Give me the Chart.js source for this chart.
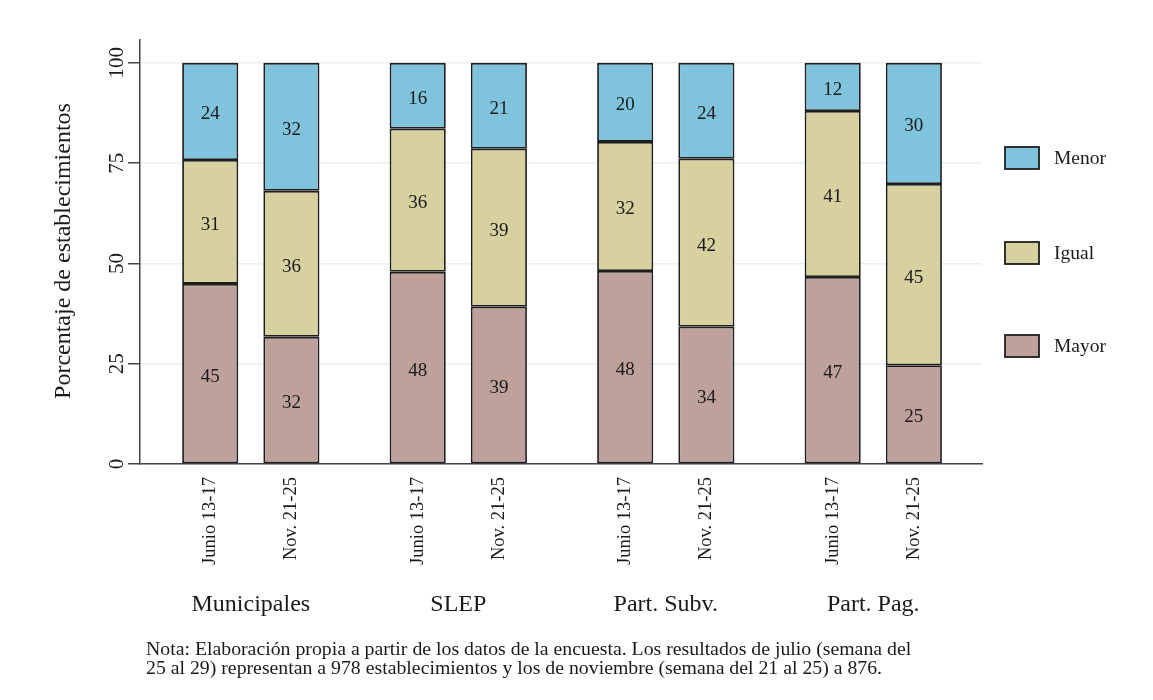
<!DOCTYPE html>
<html>
<head>
<meta charset="utf-8">
<script src="https://cdn.jsdelivr.net/npm/chart.js@4"></script>
<style>
  html, body { margin: 0; padding: 0; background: #fff; }
  #wrap { width: 1153px; height: 700px; position: relative; }
</style>
</head>
<body>
<div id="wrap"><canvas id="chart" width="1153" height="700"></canvas></div>
<script>
// categories
const groups = ['Municipales', 'SLEP', 'Part. Subv.', 'Part. Pag.'];
const periods = ['Junio 13-17', 'Nov. 21-25'];
const yTicks = [0, 25, 50, 75, 100];

// series values (% of establishments), [group]
const mayorJunio = [44.9, 47.9, 48.1, 46.6];
const mayorNov   = [31.7, 39.2, 34.2, 24.6];
const igualJunio = [30.9, 35.7, 32.2, 41.4];
const igualNov   = [36.4, 39.4, 41.9, 45.2];
const menorJunio = [24.2, 16.4, 19.7, 12.0];
const menorNov   = [31.9, 21.4, 23.9, 30.2];

const seriesNames = ['Mayor', 'Igual', 'Menor'];
const seriesColors = ['#bea19b', '#d6d19f', '#7fc3dc'];
const seriesData = [[mayorJunio, mayorNov], [igualJunio, igualNov], [menorJunio, menorNov]];

const FONT = '"Liberation Serif", "Times New Roman", serif';
const TEXT = '#1a1a1a';

const datasets = [];
seriesNames.forEach((name, s) => {
    periods.forEach((p, k) => {
        datasets.push({
            label: name,
            stack: 'p' + k,
            period: k,
            data: groups.map((g, i) => ({ x: i, y: seriesData[s][k][i] })),
            backgroundColor: seriesColors[s],
            borderColor: '#1e1e1e',
            borderWidth: 1.8,
            borderSkipped: false,
            categoryPercentage: 0.7826,
            barPercentage: 0.691
        });
    });
});

const extras = {
    id: 'extras',
    afterDatasetsDraw(chart) {
        const ctx = chart.ctx;
        const x = chart.scales.x, y = chart.scales.y;
        ctx.save();
        ctx.fillStyle = TEXT;

        // values inside segments
        ctx.font = '19px ' + FONT;
        ctx.textAlign = 'center';
        ctx.textBaseline = 'middle';
        chart.data.datasets.forEach((ds, d) => {
            chart.getDatasetMeta(d).data.forEach((bar, i) => {
                ctx.fillText(Math.round(ds.data[i].y), bar.x, (bar.y + bar.base) / 2 + 3);
            });
        });

        // period labels, rotated
        ctx.font = '18.5px ' + FONT;
        chart.data.datasets.slice(0, 2).forEach((ds, d) => {
            chart.getDatasetMeta(d).data.forEach(bar => {
                ctx.save();
                ctx.translate(bar.x, y.bottom + 13);
                ctx.rotate(-Math.PI / 2);
                ctx.textAlign = 'right';
                ctx.fillText(periods[ds.period], 0, 0);
                ctx.restore();
            });
        });

        // group labels
        ctx.font = '24px ' + FONT;
        ctx.textAlign = 'center';
        groups.forEach((g, i) => ctx.fillText(g, x.getPixelForValue(i), 605));

        // y tick labels rotated
        ctx.font = '21px ' + FONT;
        yTicks.forEach(t => {
            ctx.save();
            ctx.translate(117, y.getPixelForValue(t));
            ctx.rotate(-Math.PI / 2);
            ctx.fillText(String(t), 0, 0);
            ctx.restore();
        });

        // y title
        ctx.save();
        ctx.font = '24px ' + FONT;
        ctx.translate(64, 251);
        ctx.rotate(-Math.PI / 2);
        ctx.fillText('Porcentaje de establecimientos', 0, 0);
        ctx.restore();

        // legend (Menor on top)
        const legY = [346, 253, 158];
        ctx.font = '19.5px ' + FONT;
        ctx.textAlign = 'left';
        seriesNames.forEach((name, s) => {
            ctx.fillStyle = seriesColors[s];
            ctx.fillRect(1005, legY[s] - 11, 34, 22);
            ctx.strokeStyle = '#1e1e1e';
            ctx.lineWidth = 1.8;
            ctx.strokeRect(1005, legY[s] - 11, 34, 22);
            ctx.fillStyle = TEXT;
            ctx.fillText(name, 1054, legY[s] + 1);
        });

        // note
        ctx.font = '19.8px ' + FONT;
        ctx.fillText('Nota: Elaboración propia a partir de los datos de la encuesta. Los resultados de julio (semana del', 146, 650);
        ctx.fillText('25 al 29) representan a 978 establecimientos y los de noviembre (semana del 21 al 25) a 876.', 146, 669);
        ctx.restore();
    }
};

new Chart(document.getElementById('chart'), {
    type: 'bar',
    data: { datasets: datasets },
    options: {
        responsive: false,
        animation: false,
        layout: { padding: { left: 128, right: 171, top: 40, bottom: 236 } },
        plugins: { legend: { display: false }, tooltip: { enabled: false } },
        scales: {
            x: {
                type: 'linear',
                stacked: true,
                offset: false,
                min: -0.534,
                max: 3.524,
                afterBuildTicks: s => { s.ticks = groups.map((g, i) => ({ value: i })); },
                afterFit: s => { s.height = 0; },
                ticks: { display: false },
                grid: { display: false, offset: false },
                border: { color: '#444', width: 1.5 }
            },
            y: {
                stacked: true,
                min: 0,
                max: 105.7,
                afterBuildTicks: s => { s.ticks = yTicks.map(v => ({ value: v })); },
                afterFit: s => { s.width = 12; },
                ticks: { display: false },
                grid: { color: '#e6eff2', lineWidth: 1.5, tickLength: 12, tickColor: '#444', tickWidth: 1.5 },
                border: { color: '#444', width: 1.5 }
            }
        }
    },
    plugins: [extras]
});
</script>
</body>
</html>
